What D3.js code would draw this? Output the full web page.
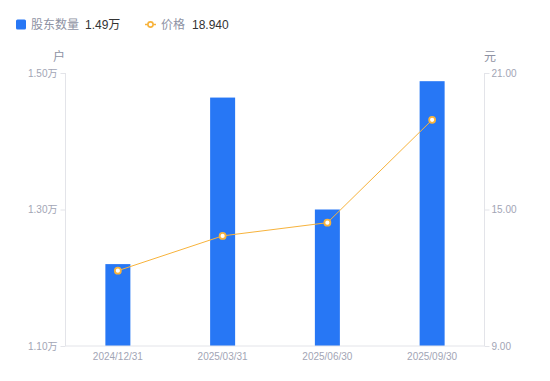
<!DOCTYPE html>
<html><head><meta charset="utf-8">
<script src="https://cdn.jsdelivr.net/npm/d3@7"></script>
<style>
html,body{margin:0;padding:0;background:#fff;}
svg{display:block;font-family:"Liberation Sans","Noto Sans CJK SC",sans-serif;}
</style></head>
<body><svg id="c" width="550" height="381"></svg>
<script>
const categories = ["2024/12/31","2025/03/31","2025/06/30","2025/09/30"];
const holders = [1.22, 1.464, 1.30, 1.488];
const prices = [12.31, 13.84, 14.42, 18.94];
const leftTicks = [1.10, 1.30, 1.50];
const rightTicks = [9, 15, 21];
const legendHolders = "1.49万";
const legendPrice = "18.940";

const svg = d3.select("#c");
const m = {l:65.5, r:484.5, t:73, b:346};
const x = d3.scaleBand().domain(categories).range([m.l, m.r]);
const yL = d3.scaleLinear().domain([1.10,1.50]).range([m.b, m.t]);
const yR = d3.scaleLinear().domain([9,21]).range([m.b, m.t]);
const axisColor = "#e3e4e9", tickText = "#a2a5b5";
const blue = "#2777f5", orange = "#f7b33c";
const font = "'Liberation Sans','Noto Sans CJK SC',sans-serif";

// bars
const bw = 25;
svg.append("g").selectAll("rect").data(holders).join("rect")
  .attr("x", (d,i)=>x(categories[i]) + x.bandwidth()/2 - bw/2)
  .attr("width", bw)
  .attr("y", d=>yL(d))
  .attr("height", d=>m.b - yL(d))
  .attr("fill", blue);

// axes
const gl = svg.append("g").attr("transform",`translate(${m.l},0)`)
  .call(d3.axisLeft(yL).tickValues(leftTicks).tickSize(5).tickPadding(3).tickFormat(d=>d.toFixed(2)+"万"));
const gr = svg.append("g").attr("transform",`translate(${m.r},0)`)
  .call(d3.axisRight(yR).tickValues(rightTicks).tickSize(5).tickPadding(2).tickFormat(d=>d.toFixed(2)));
const gb = svg.append("g").attr("transform",`translate(0,${m.b})`)
  .call(d3.axisBottom(x).tickSize(0).tickPadding(7));
[gl,gr,gb].forEach(g=>{
  g.select(".domain").attr("stroke",axisColor);
  g.selectAll(".tick line").attr("stroke",axisColor);
  g.selectAll(".tick text").attr("fill",tickText).attr("font-size",10)
    .attr("font-family",font);
});
gl.select(".domain").attr("d",`M0,${m.t}V${m.b}`);
gr.select(".domain").attr("d",`M0,${m.t}V${m.b}`);
gb.select(".domain").attr("d",`M${m.l},0H${m.r}`);

// units
svg.append("text").attr("x",59).attr("y",61).attr("text-anchor","middle")
  .attr("fill","#8e92a3").attr("font-size",12).text("户");
svg.append("text").attr("x",490).attr("y",61).attr("text-anchor","middle")
  .attr("fill","#8e92a3").attr("font-size",12).text("元");

// line
const line = d3.line().x((d,i)=>x(categories[i])+x.bandwidth()/2).y(d=>yR(d));
svg.append("path").datum(prices).attr("d",line).attr("fill","none")
  .attr("stroke",orange).attr("stroke-width",1);
svg.append("g").selectAll("circle").data(prices).join("circle")
  .attr("cx",(d,i)=>x(categories[i])+x.bandwidth()/2).attr("cy",d=>yR(d))
  .attr("r",3).attr("fill","#fff").attr("stroke",orange).attr("stroke-width",1.8);

// legend
const lg = svg.append("g").attr("font-size",12).attr("font-family",font);
lg.append("rect").attr("x",16).attr("y",19.5).attr("width",10).attr("height",10).attr("rx",1.5).attr("fill",blue);
lg.append("text").attr("x",31).attr("y",29).attr("fill","#8e92a3").text("股东数量");
lg.append("text").attr("x",85).attr("y",29).attr("fill","#333").text(legendHolders);
lg.append("line").attr("x1",145).attr("x2",156).attr("y1",24.5).attr("y2",24.5).attr("stroke",orange).attr("stroke-width",1.5);
lg.append("circle").attr("cx",150.5).attr("cy",24.5).attr("r",2.6).attr("fill","#fff").attr("stroke",orange).attr("stroke-width",1.6);
lg.append("text").attr("x",161).attr("y",29).attr("fill","#8e92a3").text("价格");
lg.append("text").attr("x",192).attr("y",29).attr("fill","#333").text(legendPrice);
</script></body></html>
